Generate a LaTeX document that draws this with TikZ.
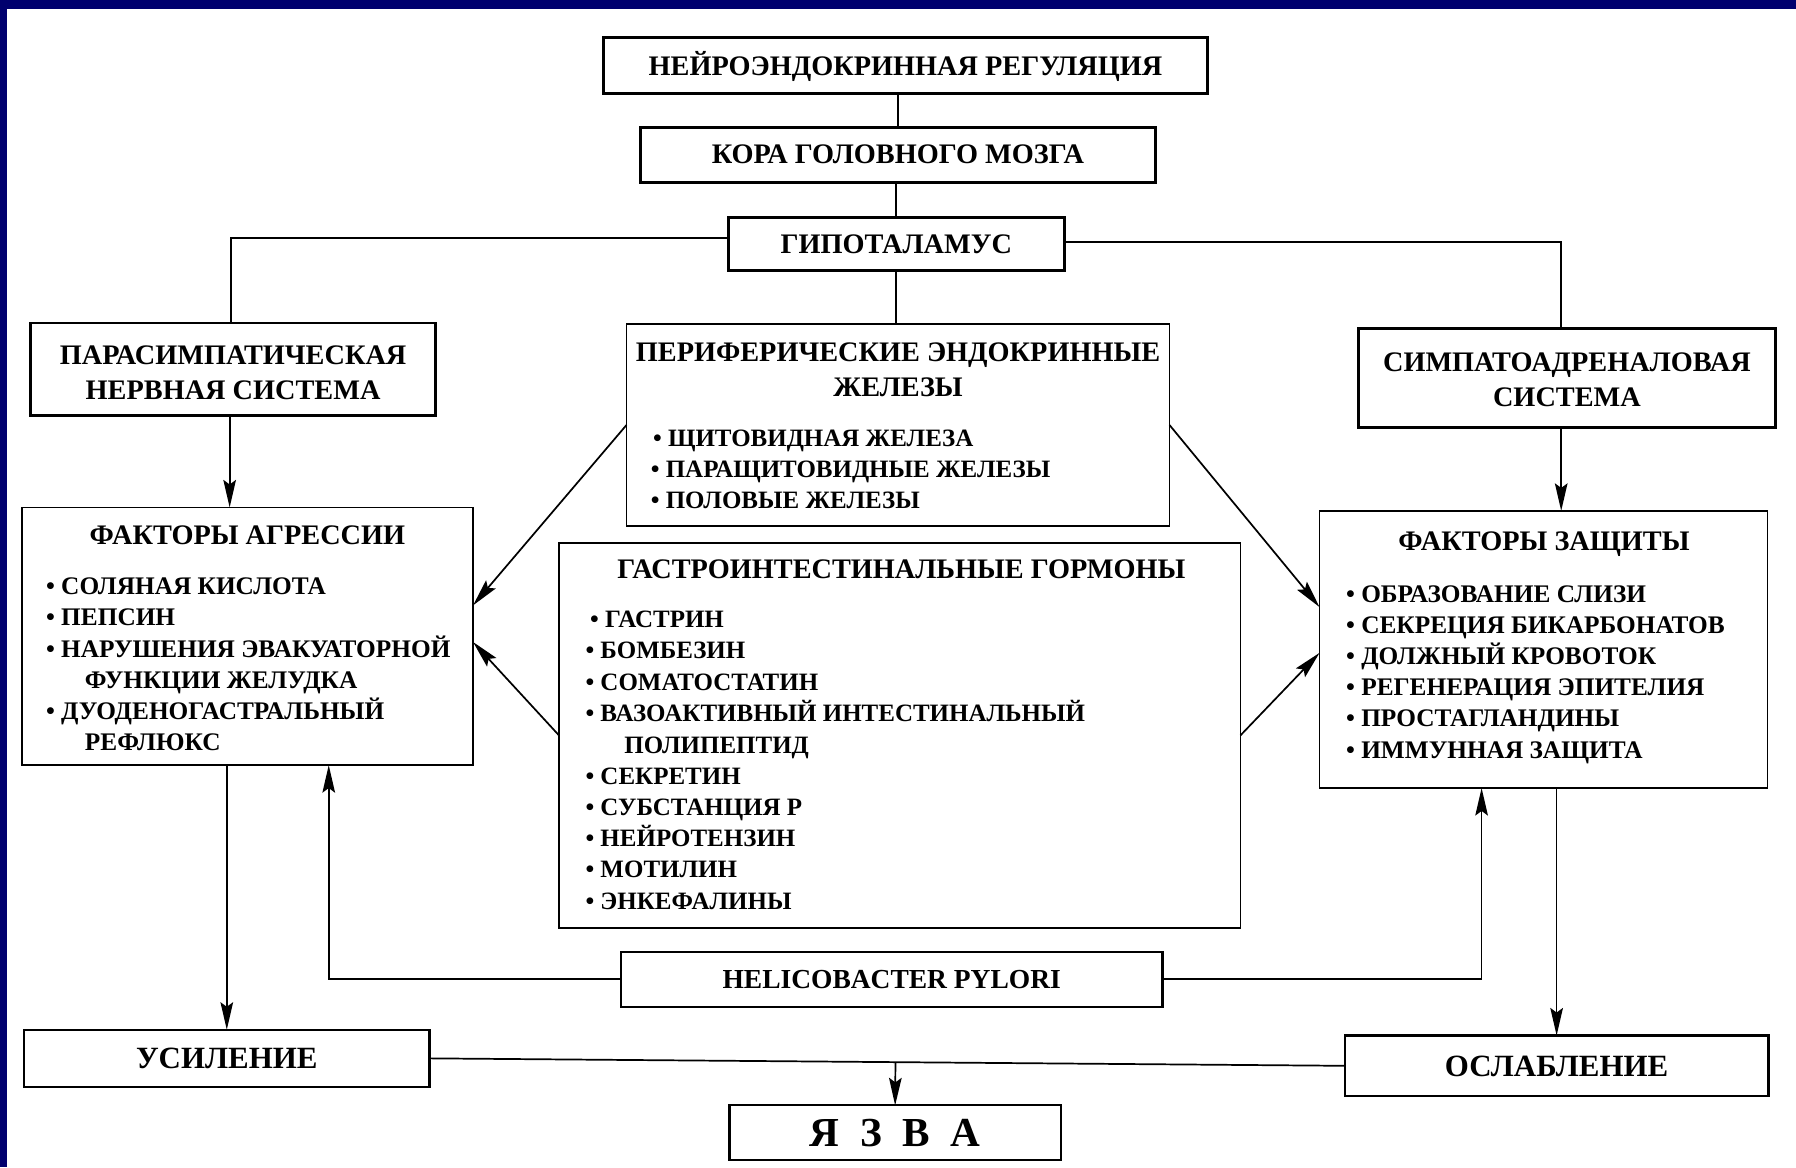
\documentclass[tikz,border=0pt]{standalone}
\usepackage{fontspec}
\setmainfont{Liberation Serif}
\usetikzlibrary{arrows.meta,calc}
\definecolor{frameblue}{RGB}{0,0,110}
\begin{document}
\begin{tikzpicture}[x=1pt,y=-1pt,
  thickbox/.style={draw, line width=2.6pt, inner sep=0pt, outer sep=0pt},
  thinbox/.style={draw, line width=1.4pt, inner sep=0pt, outer sep=0pt},
  medbox/.style={draw, line width=2pt, inner sep=0pt, outer sep=0pt},
  conn/.style={line width=1.5pt},
  arr/.style={conn, -{Stealth[length=24pt,width=11pt,inset=4pt]}},
  ttl/.style={font=\fontsize{24.7}{28}\selectfont\bfseries, inner sep=0pt, anchor=base},
  itm/.style={font=\fontsize{22.1}{27}\selectfont\bfseries, inner sep=0pt, anchor=base west},
  itmg/.style={font=\fontsize{21.8}{27}\selectfont\bfseries, inner sep=0pt, anchor=base west},
  big/.style={font=\fontsize{27}{30}\selectfont\bfseries, inner sep=0pt, anchor=base},
  huge/.style={font=\fontsize{36}{40}\selectfont\bfseries, inner sep=0pt, anchor=base}
]
\useasboundingbox[fill=white] (0,0) rectangle (1568,1019);
\fill[frameblue] (0,0) rectangle (1568,8);
\fill[frameblue] (0,0) rectangle (6,1019);

% boxes
\node[thickbox, minimum width=527pt, minimum height=49pt] (b1) at (790.5,57.5) {};
\node[thickbox, minimum width=450pt, minimum height=48pt] (b2) at (784,135) {};
\node[thickbox, minimum width=293pt, minimum height=46pt] (b3) at (782.5,213) {};
\node[thickbox, minimum width=353pt, minimum height=81pt] (b4) at (203.5,322.5) {};
\node[thinbox, minimum width=474pt, minimum height=176pt] (b5) at (784,371) {};
\node[thickbox, minimum width=364pt, minimum height=86pt] (b6) at (1368,330) {};
\node[thinbox, minimum width=394pt, minimum height=225pt] (b7) at (216,555.5) {};
\node[thinbox, minimum width=391pt, minimum height=242pt] (b8) at (1347.5,567) {};
\node[thinbox, minimum width=595pt, minimum height=336pt] (b9) at (785.5,642) {};
\node[medbox, minimum width=473pt, minimum height=48pt] (b10) at (778.5,855) {};
\node[medbox, minimum width=354pt, minimum height=50pt] (b11) at (198,924) {};
\node[medbox, minimum width=370pt, minimum height=53pt] (b12) at (1359,930.5) {};
\node[medbox, minimum width=289pt, minimum height=48pt] (b13) at (781.5,989) {};

% single-line texts
\node[ttl] (t1) at ([yshift=-8pt]b1.center) {НЕЙРОЭНДОКРИННАЯ РЕГУЛЯЦИЯ};
\node[ttl] (t2) at ([yshift=-8pt]b2.center) {КОРА ГОЛОВНОГО МОЗГА};
\node[ttl] (t3) at ([yshift=-8pt]b3.center) {ГИПОТАЛАМУС};
\node[font=\fontsize{24}{28}\selectfont\bfseries, inner sep=0pt, anchor=base] (t10) at ([yshift=-8pt]b10.center) {HELICOBACTER PYLORI};
\node[big] (t11) at ([yshift=-9pt]b11.center) {УСИЛЕНИЕ};
\node[big] (t12) at ([yshift=-9pt]b12.center) {ОСЛАБЛЕНИЕ};
\node[huge] (t13) at ([yshift=-12pt]b13.center) {Я\hspace{0.5em}З\hspace{0.5em}В\hspace{0.5em}А};

% box 4
\node[ttl] (t4a) at (203.5,318) {ПАРАСИМПАТИЧЕСКАЯ};
\node[ttl] (t4b) at (203.5,349) {НЕРВНАЯ СИСТЕМА};
% box 6
\node[ttl] (t6a) at (1368,324) {СИМПАТОАДРЕНАЛОВАЯ};
\node[ttl] (t6b) at (1368,355) {СИСТЕМА};
% box 5
\node[ttl] (t5a) at (784,316) {ПЕРИФЕРИЧЕСКИЕ ЭНДОКРИННЫЕ};
\node[ttl] (t5b) at (784,346) {ЖЕЛЕЗЫ};
\node[itmg] (t5c) at (570,390) {• ЩИТОВИДНАЯ ЖЕЛЕЗА};
\node[itmg] (t5d) at (568,417) {• ПАРАЩИТОВИДНЫЕ ЖЕЛЕЗЫ};
\node[itmg] (t5e) at (568,444) {• ПОЛОВЫЕ ЖЕЛЕЗЫ};
% box 7
\node[ttl] (t7a) at (216,475) {ФАКТОРЫ АГРЕССИИ};
\node[itm] (t7b) at (40,519) {• СОЛЯНАЯ КИСЛОТА};
\node[itm] (t7c) at (40,546) {• ПЕПСИН};
\node[itm] (t7d) at (40,574) {• НАРУШЕНИЯ ЭВАКУАТОРНОЙ};
\node[itm] (t7e) at (74,601) {ФУНКЦИИ ЖЕЛУДКА};
\node[itm] (t7f) at (40,628) {• ДУОДЕНОГАСТРАЛЬНЫЙ};
\node[itm] (t7g) at (74,655) {РЕФЛЮКС};
% box 8
\node[ttl] (t8a) at (1348,481) {ФАКТОРЫ ЗАЩИТЫ};
\node[itm] (t8b) at (1175,526) {• ОБРАЗОВАНИЕ СЛИЗИ};
\node[itm] (t8c) at (1175,553) {• СЕКРЕЦИЯ БИКАРБОНАТОВ};
\node[itm] (t8d) at (1175,580) {• ДОЛЖНЫЙ КРОВОТОК};
\node[itm] (t8e) at (1175,607) {• РЕГЕНЕРАЦИЯ ЭПИТЕЛИЯ};
\node[itm] (t8f) at (1175,634) {• ПРОСТАГЛАНДИНЫ};
\node[itm] (t8g) at (1175,662) {• ИММУННАЯ ЗАЩИТА};
% box 9
\node[ttl] (t9a) at (787,505) {ГАСТРОИНТЕСТИНАЛЬНЫЕ ГОРМОНЫ};
\node[itmg] (t9b) at (515,548) {• ГАСТРИН};
\node[itmg] (t9c) at (511,575) {• БОМБЕЗИН};
\node[itmg] (t9d) at (511,603) {• СОМАТОСТАТИН};
\node[itmg] (t9e) at (511,630) {• ВАЗОАКТИВНЫЙ ИНТЕСТИНАЛЬНЫЙ};
\node[itmg] (t9f) at (545,658) {ПОЛИПЕПТИД};
\node[itmg] (t9g) at (511,685) {• СЕКРЕТИН};
\node[itmg] (t9h) at (511,712) {• СУБСТАНЦИЯ Р};
\node[itmg] (t9i) at (511,739) {• НЕЙРОТЕНЗИН};
\node[itmg] (t9j) at (511,766) {• МОТИЛИН};
\node[itmg] (t9k) at (511,794) {• ЭНКЕФАЛИНЫ};

% connectors
\draw[conn] (b2.north |- b1.south) -- (b2.north);
\draw[conn] (b3.north |- b2.south) -- (b3.north);
\draw[conn] ([yshift=5pt]b3.west) -| ([xshift=-2pt]b4.north);
\draw[conn] ([yshift=2pt]b3.east) -| ([xshift=-5pt]b6.north);
\draw[conn] (b3.south) -- (b3.south |- b5.north);
\draw[arr] ([xshift=-3pt]b4.south) -- ([xshift=-3pt]b4.south |- b7.north);
\draw[arr] ([xshift=-5pt]b6.south) -- ([xshift=-5pt]b6.south |- b8.north);
\draw[arr] (b5.west) -- ([yshift=27pt]b7.east);
\draw[arr] (b5.east) -- ([yshift=37pt]b8.west);
\draw[arr] (b9.west) -- ([yshift=-5pt]b7.east);
\draw[arr] (b9.east) -- ([yshift=-3pt]b8.west);
\draw[arr] (b11.north |- b7.south) -- (b11.north);
\draw[arr] (b12.north |- b8.south) -- (b12.north);
\draw[arr] (b10.west) -| ([xshift=71pt]b7.south);
\draw[arr] (b10.east) -| ([xshift=-54pt]b8.south);
\draw[conn] (b11.east) -- (b12.west);
\coordinate (mid) at ($(b11.east)!(b13.north)!(b12.west)$);
\draw[arr] (mid) -- (b13.north);
\end{tikzpicture}
\end{document}
